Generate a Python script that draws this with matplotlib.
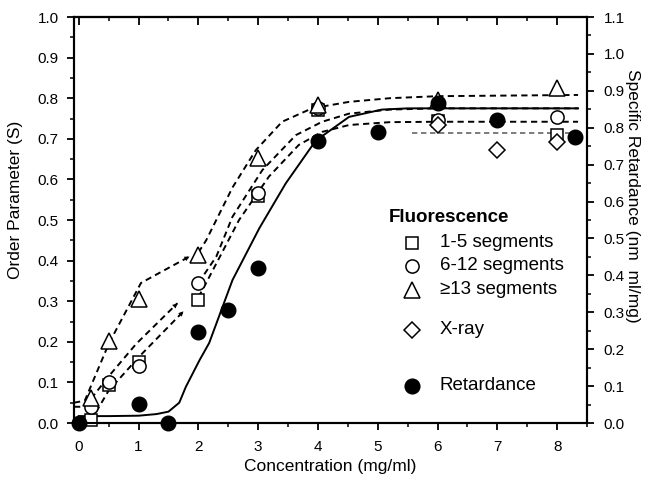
import matplotlib.pyplot as plt
from matplotlib.lines import Line2D
from matplotlib.ticker import MultipleLocator

plt.rcParams['font.family'] = ['Liberation Sans', 'DejaVu Sans']

# measured points (order parameter, left axis)
x_seg15 = [0.2, 0.5, 1.0, 2.0, 3.0, 4.0, 6.0, 8.0]
s_seg15 = [0.007, 0.094, 0.151, 0.303, 0.56, 0.77, 0.745, 0.709]
x_seg612 = [0.2, 0.5, 1.0, 2.0, 3.0, 4.0, 6.0, 8.0]
s_seg612 = [0.04, 0.102, 0.14, 0.344, 0.566, 0.775, 0.746, 0.754]
x_seg13 = [0.2, 0.5, 1.0, 2.0, 3.0, 4.0, 6.0, 8.0]
s_seg13 = [0.062, 0.203, 0.305, 0.413, 0.652, 0.783, 0.795, 0.824]
x_xray = [6.0, 7.0, 8.0]
s_xray = [0.734, 0.672, 0.693]

# specific retardance (right axis)
x_ret = [0.0, 1.0, 1.5, 2.0, 2.5, 3.0, 4.0, 5.0, 6.0, 7.0, 8.3]
r_ret = [0.0, 0.052, 0.0, 0.247, 0.306, 0.421, 0.765, 0.789, 0.866, 0.821, 0.776]

# fitted curves (left axis units)
fit_ret_x = [0.0, 0.5, 1.0, 1.3, 1.5, 1.68, 1.79, 2.02, 2.18, 2.57, 3.02, 3.46, 3.96, 4.52, 5.07, 5.5, 8.35]
fit_ret_y = [0.017, 0.017, 0.018, 0.022, 0.028, 0.05, 0.089, 0.155, 0.197, 0.352, 0.48, 0.59, 0.695, 0.754, 0.772, 0.775, 0.775]

fit13_x = [2.0, 2.13, 2.57, 2.96, 3.4, 3.9, 4.52, 5.2, 6.0, 8.35]
fit13_y = [0.42, 0.45, 0.58, 0.672, 0.742, 0.775, 0.791, 0.80, 0.805, 0.808]
fit612_x = [2.0, 2.3, 2.57, 3.07, 3.63, 4.07, 4.52, 5.2, 6.0, 8.35]
fit612_y = [0.345, 0.41, 0.508, 0.623, 0.709, 0.742, 0.762, 0.772, 0.775, 0.775]
fit15_x = [2.0, 2.13, 2.68, 3.18, 3.68, 4.07, 4.52, 5.2, 6.0, 8.35]
fit15_y = [0.31, 0.345, 0.50, 0.607, 0.685, 0.717, 0.734, 0.741, 0.742, 0.742]
xray_line_x = [5.57, 8.35]
xray_line_y = [0.714, 0.714]

# hand-drawn guides at low concentration
low13_x = [-0.08, 0.1, 0.5, 1.04, 1.85]
low13_y = [0.05, 0.055, 0.195, 0.345, 0.41]
low612_x = [-0.08, 0.1, 0.5, 0.96, 1.65]
low612_y = [0.04, 0.04, 0.115, 0.195, 0.295]
low15_x = [0.2, 0.5, 1.02, 1.75]
low15_y = [0.005, 0.08, 0.165, 0.275]

fig = plt.figure(figsize=(6.46, 4.79), dpi=100)
ax = fig.add_axes([0.1146, 0.1169, 0.7941, 0.8476])
ax2 = ax.twinx()

dash = (0, (3.2, 2.2))
ax.plot(fit_ret_x, fit_ret_y, color='black', lw=1.4)
for fx, fy in [(fit13_x, fit13_y), (fit612_x, fit612_y), (fit15_x, fit15_y)]:
    ax.plot(fx, fy, color='black', lw=1.4, linestyle=dash)
ax.plot(xray_line_x, xray_line_y, color='#666666', lw=1.2, linestyle=dash)

for lx, ly in [(low13_x, low13_y), (low612_x, low612_y), (low15_x, low15_y)]:
    ax.plot(lx, ly, color='black', lw=1.4, linestyle=dash, clip_on=False)
    ax.annotate('', xy=(lx[-1], ly[-1]), xytext=(lx[-2], ly[-2]),
                arrowprops=dict(arrowstyle='-|>', color='black', lw=0,
                                mutation_scale=9, shrinkA=0, shrinkB=0))

mk = dict(linestyle='none', markerfacecolor='white', markeredgecolor='black',
          markeredgewidth=1.1, clip_on=False, zorder=5)
ax.plot(x_seg15, s_seg15, marker='s', markersize=8.5, **mk)
ax.plot(x_seg612, s_seg612, marker='o', markersize=9.5, **mk)
ax.plot(x_seg13, s_seg13, marker='^', markersize=11, **mk)
ax.plot(x_xray, s_xray, marker='D', markersize=8, **mk)
ax2.plot(x_ret, r_ret, marker='o', markersize=10.5, linestyle='none',
         color='black', clip_on=False, zorder=6)

ax.set_xlim(-0.08, 8.5)
ax.set_ylim(0, 1.0)
ax2.set_ylim(0, 1.1)

ax.xaxis.set_major_locator(MultipleLocator(1))
ax.xaxis.set_minor_locator(MultipleLocator(0.5))
ax.yaxis.set_major_locator(MultipleLocator(0.1))
ax.yaxis.set_minor_locator(MultipleLocator(0.05))
ax2.yaxis.set_major_locator(MultipleLocator(0.1))
ax2.yaxis.set_minor_locator(MultipleLocator(0.05))
ax.yaxis.set_major_formatter('{x:.1f}')
ax2.yaxis.set_major_formatter('{x:.1f}')

ax.tick_params(which='major', direction='out', length=5, width=1.3, labelsize=11)
ax.tick_params(which='minor', direction='out', length=3, width=1.1)
ax.tick_params(axis='x', which='major', pad=7)
ax.tick_params(axis='y', which='major', pad=6)
ax2.tick_params(which='major', direction='out', length=5, width=1.3, labelsize=11, pad=7)
ax2.tick_params(which='minor', direction='out', length=3, width=1.1)

top = ax.secondary_xaxis('top')
top.xaxis.set_major_locator(MultipleLocator(1))
top.xaxis.set_minor_locator(MultipleLocator(0.5))
top.tick_params(which='major', direction='in', length=6, width=1.3, labeltop=False)
top.tick_params(which='minor', direction='in', length=3, width=1.1)
top.spines['top'].set_linewidth(1.5)

for a in (ax, ax2):
    for s in a.spines.values():
        s.set_linewidth(1.5)

ax.set_xlabel('Concentration (mg/ml)', fontsize=12.5, labelpad=4)
ax.set_ylabel('Order Parameter (S)', fontsize=12.5)
ax.yaxis.set_label_coords(-0.1, 0.55)
ax2.set_ylabel('Specific Retardance (nm  ml/mg)', fontsize=12.5, rotation=270, va='center')
ax2.yaxis.set_label_coords(1.089, 0.56)

# legend drawn by hand
fig.text(0.602, 0.5449, 'Fluorescence', fontsize=13.5, fontweight='bold', va='center')
entries = [('s', 8.5, 'white', '1-5 segments', 0.4927),
           ('o', 9.5, 'white', '6-12 segments', 0.4447),
           ('^', 11, 'white', '≥13 segments', 0.3946),
           ('D', 8, 'white', 'X-ray', 0.3111),
           ('o', 10.5, 'black', 'Retardance', 0.1948)]
for m, ms, fc, label, yy in entries:
    fig.add_artist(Line2D([0.6378], [yy], marker=m, markersize=ms,
                          markerfacecolor=fc, markeredgecolor='black',
                          markeredgewidth=1.1, linestyle='none'))
    fig.text(0.681, yy, label, fontsize=13.5, va='center')

fig.savefig('out.png', dpi=100)
